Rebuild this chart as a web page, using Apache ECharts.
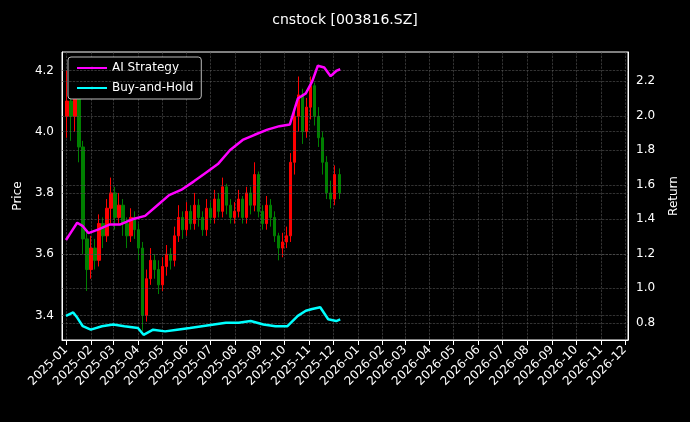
<!DOCTYPE html>
<html><head><meta charset="utf-8">
<script src="https://cdn.jsdelivr.net/npm/echarts@6/dist/echarts.min.js"></script>
<style>html,body{margin:0;background:#000}#c{width:690px;height:422px}</style>
</head><body><div id="c"></div>
<script>
const candleDates = ['2025-01-02','2025-01-07','2025-01-12','2025-01-17','2025-01-22','2025-01-27','2025-02-01','2025-02-06','2025-02-11','2025-02-16','2025-02-21','2025-02-26','2025-03-03','2025-03-08','2025-03-13','2025-03-18','2025-03-23','2025-03-28','2025-04-02','2025-04-07','2025-04-12','2025-04-17','2025-04-22','2025-04-27','2025-05-02','2025-05-07','2025-05-12','2025-05-17','2025-05-22','2025-05-27','2025-06-01','2025-06-06','2025-06-11','2025-06-16','2025-06-21','2025-06-26','2025-07-01','2025-07-06','2025-07-11','2025-07-16','2025-07-21','2025-07-26','2025-07-31','2025-08-05','2025-08-10','2025-08-15','2025-08-20','2025-08-25','2025-08-30','2025-09-04','2025-09-09','2025-09-14','2025-09-19','2025-09-24','2025-09-29','2025-10-04','2025-10-09','2025-10-14','2025-10-19','2025-10-24','2025-10-29','2025-11-03','2025-11-08','2025-11-13','2025-11-18','2025-11-23','2025-11-28','2025-12-03','2025-12-09'];
const opens  = [4.05,4.10,4.05,4.15,3.95,3.65,3.55,3.62,3.58,3.70,3.66,3.75,3.80,3.72,3.76,3.70,3.66,3.72,3.68,3.62,3.40,3.52,3.58,3.55,3.50,3.56,3.60,3.58,3.66,3.72,3.68,3.74,3.70,3.76,3.72,3.68,3.75,3.72,3.78,3.74,3.82,3.76,3.72,3.74,3.78,3.72,3.80,3.76,3.86,3.74,3.70,3.76,3.72,3.66,3.62,3.64,3.66,3.90,4.05,4.12,4.00,4.08,4.15,4.05,3.98,3.90,3.80,3.78,3.86];
const closes = [4.10,4.05,4.15,3.95,3.65,3.55,3.62,3.58,3.70,3.66,3.75,3.80,3.72,3.76,3.70,3.66,3.72,3.68,3.62,3.40,3.52,3.58,3.55,3.50,3.56,3.60,3.58,3.66,3.72,3.68,3.74,3.70,3.76,3.72,3.68,3.75,3.72,3.78,3.74,3.82,3.76,3.72,3.74,3.78,3.72,3.80,3.76,3.86,3.74,3.70,3.76,3.72,3.66,3.62,3.64,3.66,3.90,4.05,4.12,4.00,4.08,4.15,4.05,3.98,3.90,3.80,3.78,3.86,3.80];
const lows   = [3.98,3.97,4.00,3.90,3.60,3.48,3.52,3.55,3.56,3.62,3.64,3.70,3.68,3.70,3.66,3.62,3.64,3.65,3.58,3.35,3.38,3.50,3.52,3.47,3.48,3.53,3.55,3.56,3.64,3.65,3.66,3.68,3.68,3.69,3.66,3.66,3.70,3.70,3.72,3.72,3.73,3.70,3.70,3.72,3.70,3.70,3.73,3.74,3.72,3.68,3.68,3.69,3.64,3.58,3.59,3.62,3.64,3.86,4.00,3.96,3.98,4.04,4.02,3.95,3.86,3.78,3.75,3.76,3.78];
const highs  = [4.20,4.15,4.18,4.16,3.97,3.68,3.66,3.65,3.73,3.72,3.78,3.85,3.82,3.80,3.78,3.72,3.75,3.74,3.70,3.64,3.55,3.62,3.60,3.58,3.59,3.63,3.62,3.69,3.76,3.74,3.77,3.76,3.80,3.78,3.74,3.78,3.77,3.81,3.80,3.85,3.83,3.78,3.77,3.81,3.79,3.82,3.82,3.90,3.87,3.76,3.79,3.78,3.74,3.67,3.67,3.69,3.93,4.08,4.18,4.14,4.11,4.18,4.16,4.08,4.00,3.92,3.84,3.89,3.88];
const aiDates = ['2025-01-01','2025-01-08','2025-01-15','2025-01-22','2025-01-29','2025-02-10','2025-02-25','2025-03-10','2025-03-25','2025-04-10','2025-04-25','2025-05-10','2025-05-25','2025-06-10','2025-06-25','2025-07-10','2025-07-25','2025-08-10','2025-08-25','2025-09-10','2025-09-25','2025-10-08','2025-10-18','2025-10-28','2025-11-05','2025-11-12','2025-11-20','2025-11-28','2025-12-05','2025-12-10'];
const aiReturn = [1.28,1.33,1.38,1.36,1.32,1.34,1.37,1.37,1.40,1.42,1.48,1.54,1.57,1.62,1.67,1.72,1.80,1.86,1.89,1.92,1.94,1.95,2.10,2.13,2.20,2.29,2.28,2.23,2.26,2.27];
const bhDates = ['2025-01-01','2025-01-10','2025-01-15','2025-01-22','2025-02-01','2025-02-15','2025-03-01','2025-03-15','2025-04-01','2025-04-08','2025-04-20','2025-05-05','2025-05-20','2025-06-05','2025-06-20','2025-07-05','2025-07-20','2025-08-05','2025-08-20','2025-09-05','2025-09-20','2025-10-05','2025-10-18','2025-10-28','2025-11-05','2025-11-15','2025-11-25','2025-12-05','2025-12-10'];
const bhReturn = [0.84,0.86,0.83,0.78,0.76,0.78,0.79,0.78,0.77,0.73,0.76,0.75,0.76,0.77,0.78,0.79,0.80,0.80,0.81,0.79,0.78,0.78,0.84,0.87,0.88,0.89,0.82,0.81,0.82];
const priceTicks = [3.4,3.6,3.8,4.0,4.2];
const returnTicks = [0.8,1.0,1.2,1.4,1.6,1.8,2.0,2.2];

const candles = candleDates.map((d,i)=>[d,opens[i],closes[i],lows[i],highs[i]]);
const ai = aiDates.map((d,i)=>[d,aiReturn[i]]);
const bh = bhDates.map((d,i)=>[d,bhReturn[i]]);
const gridLine = {type:'dashed',color:'#555',width:0.6};
const mk = ticks => ({silent:true,symbol:'none',label:{show:false},lineStyle:gridLine,data:ticks.map(v=>({yAxis:v}))});
const onTick = (v,step)=>Math.abs(v/step-Math.round(v/step))<1e-6;

const chart = echarts.init(document.getElementById('c'));
chart.setOption({
  backgroundColor:'#000',
  animation:false,
  title:{text:'cnstock [003816.SZ]',left:'center',top:8,textStyle:{color:'#fff',fontSize:14,fontWeight:'normal',fontFamily:'DejaVu Sans'}},
  grid:{left:62,right:62,top:52,bottom:82,show:true,borderColor:'#fff',borderWidth:1},
  legend:{data:['AI Strategy','Buy-and-Hold'],orient:'vertical',left:68,top:57,backgroundColor:'#000',borderColor:'#bbb',borderWidth:1,borderRadius:3,padding:[5,8],itemGap:8,itemWidth:30,itemHeight:3,textStyle:{color:'#fff',fontSize:12,fontFamily:'DejaVu Sans'}},
  xAxis:{type:'time',min:'2024-12-27',max:'2026-12-05',splitNumber:24,minInterval:28*86400000,maxInterval:31*86400000,
    axisLine:{lineStyle:{color:'#fff'}},axisTick:{lineStyle:{color:'#fff'}},
    splitLine:{show:true,lineStyle:gridLine},
    axisLabel:{color:'#fff',rotate:45,fontSize:12,fontFamily:'DejaVu Sans',hideOverlap:false,formatter:v=>echarts.time.format(v,'{yyyy}-{MM}',false)}},
  yAxis:[
    {type:'value',min:3.32,max:4.26,interval:0.02,name:'Price',nameLocation:'middle',nameGap:38,nameTextStyle:{color:'#fff',fontSize:12,fontFamily:'DejaVu Sans'},
     axisLine:{show:true,lineStyle:{color:'#fff'}},axisTick:{show:false},splitLine:{show:false},
     axisLabel:{color:'#fff',fontSize:12,fontFamily:'DejaVu Sans',formatter:v=>onTick(v,0.2)?v.toFixed(1):''}},
    {type:'value',min:0.70,max:2.37,interval:0.01,name:'Return',nameLocation:'middle',nameGap:40,nameTextStyle:{color:'#fff',fontSize:12,fontFamily:'DejaVu Sans'},
     axisLine:{show:true,lineStyle:{color:'#fff'}},axisTick:{show:false},splitLine:{show:false},
     axisLabel:{color:'#fff',fontSize:12,fontFamily:'DejaVu Sans',formatter:v=>onTick(v,0.2)?v.toFixed(1):''}}
  ],
  series:[
    {type:'candlestick',name:'Price',data:candles,yAxisIndex:0,barWidth:3,
     itemStyle:{color:'#ff0000',color0:'#008000',borderColor:'#ff0000',borderColor0:'#008000',borderWidth:1},markLine:mk(priceTicks)},
    {type:'line',name:'AI Strategy',data:ai,yAxisIndex:1,symbol:'none',lineStyle:{color:'#ff00ff',width:2.5},itemStyle:{color:'#ff00ff'},markLine:mk(returnTicks),z:5},
    {type:'line',name:'Buy-and-Hold',data:bh,yAxisIndex:1,symbol:'none',lineStyle:{color:'#00ffff',width:2.5},itemStyle:{color:'#00ffff'},z:5}
  ]
});
</script></body></html>
